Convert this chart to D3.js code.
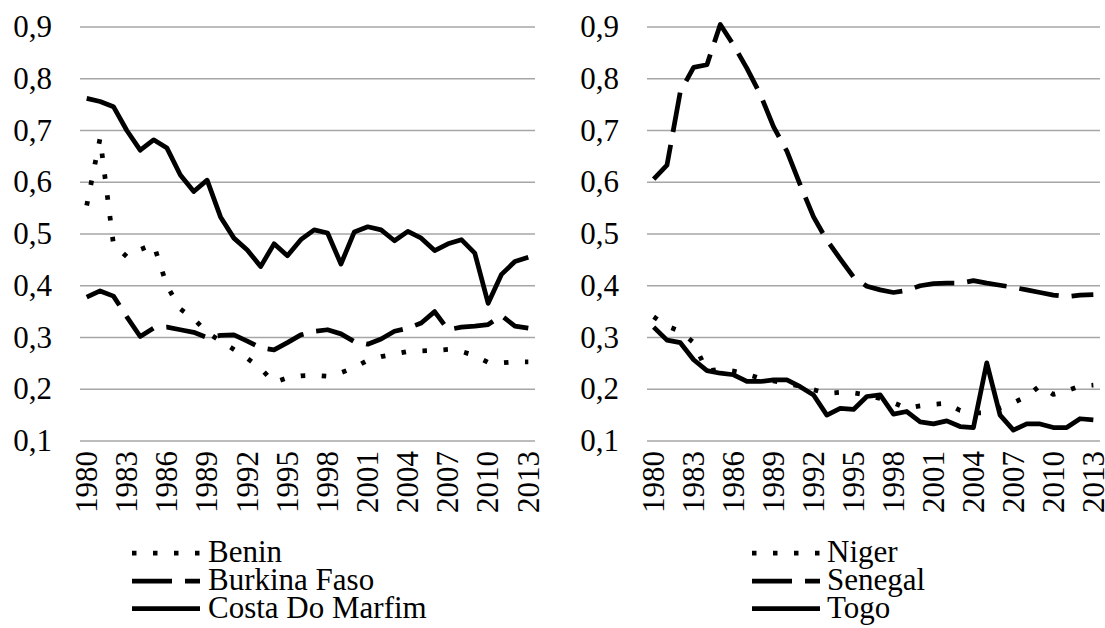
<!DOCTYPE html>
<html>
<head>
<meta charset="utf-8">
<script src="https://cdn.jsdelivr.net/npm/d3@7"></script>
<style>
body { margin: 0; background: #fff; }
svg { display: block; }
</style>
</head>
<body>
<svg id="chart" width="1105" height="628"></svg>
<script>
var years = [1980, 1981, 1982, 1983, 1984, 1985, 1986, 1987, 1988, 1989,
             1990, 1991, 1992, 1993, 1994, 1995, 1996, 1997, 1998, 1999,
             2000, 2001, 2002, 2003, 2004, 2005, 2006, 2007, 2008, 2009,
             2010, 2011, 2012, 2013];
var yearTicks = [1980, 1983, 1986, 1989, 1992, 1995, 1998, 2001, 2004, 2007, 2010, 2013];
var yTicks = [0.1, 0.2, 0.3, 0.4, 0.5, 0.6, 0.7, 0.8, 0.9];

// left panel
var benin = [0.555, 0.685, 0.480, 0.456, 0.470, 0.480, 0.400, 0.355, 0.336, 0.310,
             0.293, 0.277, 0.260, 0.240, 0.213, 0.222, 0.226, 0.227, 0.225, 0.232,
             0.242, 0.256, 0.263, 0.268, 0.273, 0.274, 0.275, 0.277, 0.273, 0.265,
             0.252, 0.251, 0.253, 0.253];
var burkina = [0.378, 0.390, 0.380, 0.340, 0.302, 0.318, 0.320, 0.315, 0.310, 0.300,
               0.304, 0.305, 0.293, 0.280, 0.276, 0.290, 0.305, 0.312, 0.315, 0.307,
               0.292, 0.287, 0.297, 0.312, 0.318, 0.328, 0.350, 0.315, 0.320, 0.322,
               0.325, 0.342, 0.322, 0.318];
var costa = [0.762, 0.756, 0.746, 0.700, 0.662, 0.682, 0.666, 0.614, 0.582, 0.604,
             0.533, 0.492, 0.469, 0.437, 0.481, 0.458, 0.489, 0.508, 0.502, 0.442,
             0.504, 0.514, 0.508, 0.487, 0.505, 0.492, 0.468, 0.481, 0.489, 0.463,
             0.366, 0.422, 0.447, 0.455];

// right panel
var niger = [0.340, 0.322, 0.312, 0.290, 0.235, 0.239, 0.235, 0.229, 0.221, 0.216,
             0.211, 0.206, 0.199, 0.192, 0.194, 0.193, 0.189, 0.182, 0.174, 0.163,
             0.168, 0.171, 0.173, 0.159, 0.154, 0.155, 0.164, 0.174, 0.186, 0.207,
             0.190, 0.197, 0.206, 0.208];
var senegal = [0.606, 0.633, 0.775, 0.822, 0.827, 0.905, 0.865, 0.820, 0.770, 0.707,
               0.660, 0.595, 0.533, 0.488, 0.452, 0.417, 0.399, 0.392, 0.387, 0.391,
               0.400, 0.404, 0.405, 0.405, 0.410, 0.405, 0.401, 0.397, 0.392, 0.387,
               0.382, 0.379, 0.382, 0.383];
var togo = [0.320, 0.295, 0.290, 0.257, 0.236, 0.231, 0.228, 0.215, 0.215, 0.218,
            0.218, 0.205, 0.189, 0.150, 0.163, 0.161, 0.186, 0.189, 0.152, 0.157,
            0.137, 0.133, 0.139, 0.128, 0.126, 0.251, 0.150, 0.121, 0.133, 0.133,
            0.126, 0.126, 0.143, 0.141];

var dotted = "4.5 16.5", dashed = "40 13", solid = null;

var svg = d3.select("#chart");
var font = "Liberation Serif";
var fontSize = 31;

var y = d3.scaleLinear().domain([0.1, 0.9]).range([441, 27]);
var legendRows = [553, 581, 608.5];

var panels = [
    { x0: 80, x1: 535, labelX: 52, legX: 132, legTextX: 208,
      series: [{ name: "Benin", values: benin, dash: dotted },
               { name: "Burkina Faso", values: burkina, dash: dashed },
               { name: "Costa Do Marfim", values: costa, dash: solid }] },
    { x0: 647, x1: 1100, labelX: 619, legX: 752, legTextX: 827,
      series: [{ name: "Niger", values: niger, dash: dotted },
               { name: "Senegal", values: senegal, dash: dashed },
               { name: "Togo", values: togo, dash: solid }] }
];

var fmt = d3.format(".1f");

panels.forEach(function(p) {
    var x = d3.scaleBand().domain(years).range([p.x0, p.x1]);
    var cx = function(yr) { return x(yr) + x.bandwidth() / 2; };
    var g = svg.append("g")
        .attr("font-family", font)
        .attr("font-size", fontSize);

    g.selectAll("line.grid")
        .data(yTicks)
        .enter().append("line")
        .attr("class", "grid")
        .attr("x1", p.x0).attr("x2", p.x1)
        .attr("y1", function(d) { return y(d); })
        .attr("y2", function(d) { return y(d); })
        .attr("stroke", "#a6a6a6")
        .attr("stroke-width", 1.4);

    g.selectAll("text.ylab")
        .data(yTicks)
        .enter().append("text")
        .attr("class", "ylab")
        .attr("x", p.labelX)
        .attr("y", function(d) { return y(d); })
        .attr("dy", "0.33em")
        .attr("text-anchor", "end")
        .text(function(d) { return fmt(d).replace(".", ","); });

    g.selectAll("text.xlab")
        .data(yearTicks)
        .enter().append("text")
        .attr("class", "xlab")
        .attr("transform", function(d) { return "translate(" + cx(d) + ",451) rotate(-90)"; })
        .attr("dy", "0.33em")
        .attr("text-anchor", "end")
        .text(function(d) { return d; });

    var line = d3.line()
        .x(function(d, i) { return cx(years[i]); })
        .y(function(d) { return y(d); });

    p.series.forEach(function(s, si) {
        g.append("path")
            .datum(s.values)
            .attr("d", line)
            .attr("fill", "none")
            .attr("stroke", "#000")
            .attr("stroke-width", 4.75)
            .attr("stroke-linejoin", "round")
            .attr("stroke-dasharray", s.dash);

        var ly = legendRows[si];
        g.append("line")
            .attr("x1", p.legX).attr("x2", p.legX + 68)
            .attr("y1", ly).attr("y2", ly)
            .attr("stroke", "#000")
            .attr("stroke-width", 4.75)
            .attr("stroke-dasharray", s.dash);
        g.append("text")
            .attr("x", p.legTextX)
            .attr("y", ly + 9)
            .text(s.name);
    });
});
</script>
</body>
</html>
